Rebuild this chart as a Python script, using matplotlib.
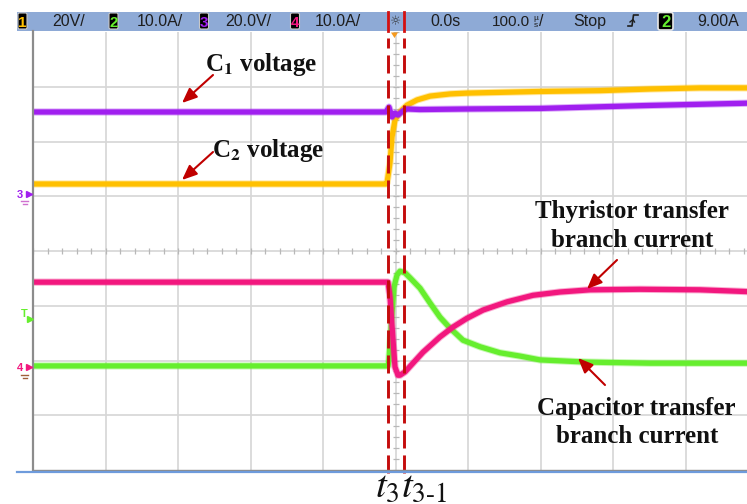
import matplotlib
matplotlib.use("Agg")
import matplotlib.pyplot as plt
import matplotlib.patheffects as pe
from matplotlib.patches import Rectangle, FancyBboxPatch, Polygon

plt.rcParams["mathtext.fontset"] = "stix"
plt.rcParams["lines.scale_dashes"] = False

# ---------------- data (time in microseconds) ----------------
# C1 voltage, channel 3 (purple), V
t_c1 = [-500, -13.1, -9.0, -4.8, -0.7, 3.4, 10.3, 15.9, 33.8, 98.6, 199.3, 351.0, 500]
v_c1 = [29.6, 29.6, 31.4, 27.8, 29.2, 28.5, 30.0, 30.7, 30.5, 30.7, 30.9, 32.0, 32.9]

# C2 voltage, channel 1 (yellow), V
t_c2 = [-500, -13.1, -11.7, -7.6, -4.8, -0.7, 6.2, 15.9, 29.7, 47.6, 75.2, 98.6,
        199.3, 282.1, 351.0, 420.0, 500]
v_c2 = [3.3, 3.3, 3.7, 11.0, 20.5, 26.7, 29.6, 32.1, 34.0, 35.4, 36.2, 36.5,
        37.1, 37.4, 38.0, 38.4, 38.4]

# Thyristor transfer branch current, channel 4 (magenta), A
t_thy = [-500, -10.3, -7.6, -3.4, -0.7, 3.4, 6.2, 13.1, 24.1, 37.9, 61.4, 79.3,
         98.6, 120.7, 153.8, 189.7, 226.9, 268.3, 337.2, 420.0, 500]
i_thy = [15.5, 15.5, 12.8, 4.9, 0.0, -1.5, -1.5, -0.9, 0.7, 2.7, 5.5, 7.3,
         8.9, 10.4, 11.9, 13.1, 13.7, 14.1, 14.2, 14.1, 13.7]

# Capacitor transfer branch current, channel 2 (green), A
t_cap = [-500, -10.3, -9.0, -4.8, -2.1, 2.1, 6.2, 13.1, 20.0, 33.8, 47.6, 61.4,
         75.2, 93.1, 116.6, 144.1, 171.7, 199.3, 264.1, 351.0, 500]
i_cap = [0.2, 0.2, 1.3, 9.9, 14.6, 16.8, 17.5, 17.2, 16.3, 14.4, 11.7, 9.1,
         7.1, 4.9, 3.7, 2.6, 2.0, 1.3, 0.9, 0.7, 0.7]

# event instants (µs)
t_events = [-10.3, 11.7]
event_labels = [r"$t_{3}$", r"$t_{3\text{-}1}$"]

# trace labels
label_c1 = "C$_{\\mathbf{1}}$ voltage"
label_c2 = "C$_{\\mathbf{2}}$ voltage"
label_thy = ["Thyristor transfer", "branch current"]
label_cap = ["Capacitor transfer", "branch current"]

# oscilloscope header
ch_ids = ["1", "2", "3", "4"]
ch_scales = ["20V/", "10.0A/", "20.0V/", "10.0A/"]
t_position = "0.0s"
t_scale = "100.0"
run_state = "Stop"
trig_ch = "2"
trig_level = "9.00A"

# ---------------- style ----------------
W, H = 747, 504
col_c1 = "#A01FEF"
col_c2 = "#FFC000"
col_thy = "#F2177E"
col_cap = "#66EE2E"
red = "#C40C0C"
grid_col = "#D6D6D6"

v_per_div, v_off = 20.0, 1.059      # volts/div, ground position (div)
a_per_div, a_off = 10.0, -2.119     # amps/div, ground position (div)

fig = plt.figure(figsize=(W / 100, H / 100), dpi=100)
fig.patch.set_facecolor("white")

# main scope axes: pixel 33..747 horizontally, 32..470 vertically
x0, x1, ytop, ybot = 33, 747, 32, 470
ax = fig.add_axes([x0 / W, (H - ybot) / H, (x1 - x0) / W, (ybot - ytop) / H])
px_per_div = 72.5
ax.set_xlim(-500, -500 + (x1 - x0) / px_per_div * 100)
ax.set_ylim(-4, 4)
for s in ax.spines.values():
    s.set_visible(False)
ax.set_xticks([])
ax.set_yticks([])

# grid
for tg in range(-400, 600, 100):
    ax.axvline(tg, color=grid_col, lw=1.2, zorder=1)
for d in range(-3, 4):
    ax.axhline(d, color=grid_col, lw=1.2, zorder=1)
# minor ticks on centre lines
mx = [x for x in range(-500, 500, 20)]
ax.plot(mx, [0] * len(mx), ls="none", marker="|", ms=5, mew=0.9, color="#B8B8B8", zorder=1)
my = [k * 0.2 for k in range(-20, 21)]
ax.plot([0] * len(my), my, ls="none", marker="_", ms=5, mew=0.9, color="#B8B8B8", zorder=1)

fuzz = lambda c: [pe.Stroke(linewidth=5.2, foreground=c, alpha=0.35), pe.Normal()]


def to_div(vals, per, off):
    return [off + v / per for v in vals]


ax.plot(t_c2, to_div(v_c2, v_per_div, v_off), color=col_c2, lw=3.8, zorder=3,
        solid_joinstyle="round", path_effects=fuzz(col_c2))
ax.plot(t_cap, to_div(i_cap, a_per_div, a_off), color=col_cap, lw=3.8, zorder=3,
        solid_joinstyle="round", path_effects=fuzz(col_cap))
ax.plot(t_c1, to_div(v_c1, v_per_div, v_off), color=col_c1, lw=3.8, zorder=4,
        solid_joinstyle="round", path_effects=fuzz(col_c1))
ax.plot(t_thy, to_div(i_thy, a_per_div, a_off), color=col_thy, lw=3.8, zorder=4,
        solid_joinstyle="round", path_effects=fuzz(col_thy))

# dashed event lines
for te in t_events:
    ax.axvline(te, ymin=-3 / 438, ymax=(ybot - 38) / 438, color=red, lw=2.1,
               ls=(0, (13, 5)), clip_on=False, zorder=6)

# ---------------- overlay in pixel coordinates ----------------
ov = fig.add_axes([0, 0, 1, 1], zorder=5)
ov.set_xlim(0, W)
ov.set_ylim(H, 0)
ov.axis("off")
ov.patch.set_visible(False)

# frame lines
ov.plot([33, 33], [31, 470], color="#8C8C8C", lw=1.6)
ov.plot([33, W], [470, 470], color="#8C8C8C", lw=1.0)
ov.plot([17, W], [472, 472], color="#6E9BDC", lw=1.6)

# header bar
ov.add_patch(Rectangle((17, 12), W - 17, 19, fc="#8EAAD6", ec="none"))
badge_x = [18, 109, 199.5, 290.5]
badge_c = [col_c2, col_cap, col_c1, col_thy]
text_x = [52, 137, 225, 315]
hfont = dict(family="Liberation Sans", fontsize=11.5, color="#1E1E1E")
for bx, bc, cid, tx, sc in zip(badge_x, badge_c, ch_ids, text_x, ch_scales):
    ov.add_patch(FancyBboxPatch((bx, 13), 9, 16, boxstyle="round,pad=0,rounding_size=1.5",
                                fc="black", ec="#C8C8C8", lw=0.8))
    ov.text(bx + 4.5, 27, cid, ha="center", va="baseline", color=bc,
            family="Liberation Sans", fontsize=11, fontweight="bold")
    ov.text(tx, 26, sc, ha="left", va="baseline", **hfont)

# trigger position icon and red event marks in header
ov.text(396, 21.5, "☼", ha="center", va="center", fontsize=9, color="#333333",
        family="DejaVu Sans")
for px in [388, 404]:
    ov.plot([px, px], [12, 31], color="#D41010", lw=2.0)
ov.add_patch(Polygon([[391, 32.5], [398, 32.5], [394.5, 38]], closed=True,
                     fc="#F59A1E", ec="none"))

ov.text(430, 26, t_position, ha="left", va="baseline", **hfont)
ov.text(492, 26, t_scale, ha="left", va="baseline", family="Liberation Sans",
        fontsize=11, color="#1E1E1E")
ov.text(533, 19.5, "µ", ha="left", va="baseline", family="Liberation Sans",
        fontsize=6, color="#1E1E1E")
ov.text(533.5, 27, "s", ha="left", va="baseline", family="Liberation Sans",
        fontsize=6, color="#1E1E1E")
ov.text(539, 26, "/", ha="left", va="baseline", **hfont)
ov.text(573, 26, run_state, ha="left", va="baseline", **hfont)
# rising edge trigger symbol
ov.plot([628, 632, 633.5, 638], [26, 26, 15, 15], color="#1E1E1E", lw=1.2)
ov.plot([630, 633, 634.5], [22, 19.5, 22], color="#1E1E1E", lw=1.0)
ov.add_patch(FancyBboxPatch((658, 12.5), 15, 17.5, boxstyle="round,pad=0,rounding_size=2",
                            fc="black", ec="#E8E8E8", lw=1.2))
ov.text(665.5, 27, trig_ch, ha="center", va="baseline", color=col_cap,
        family="Liberation Sans", fontsize=12, fontweight="bold")
ov.text(697, 26, trig_level, ha="left", va="baseline", **hfont)

# left side channel markers
ov.text(17, 198, "3", color=col_c1, fontsize=8, fontweight="bold", family="Liberation Sans")
ov.plot([29], [193.5], marker=">", ms=4, color=col_c1)
ov.plot([21, 28], [201, 201], color="#D070D0", lw=1.0)
ov.plot([22.5, 26.5], [203.5, 203.5], color="#D070D0", lw=1.0)
ov.text(21, 317, "T", color=col_cap, fontsize=8, fontweight="bold", family="Liberation Sans")
ov.plot([29.5], [319], marker=">", ms=4, color=col_cap)
ov.text(17, 371, "4", color=col_thy, fontsize=8, fontweight="bold", family="Liberation Sans")
ov.plot([29], [366.5], marker=">", ms=4, color=col_thy)
ov.plot([21, 28], [375, 375], color="#A0603A", lw=1.0)
ov.plot([22.5, 26.5], [377.5, 377.5], color="#A0603A", lw=1.0)

# trace labels
lab = dict(family="Liberation Serif", fontweight="bold", fontsize=18, color="#111111")
ov.text(205, 71, label_c1, ha="left", va="baseline", **lab)
ov.text(212, 157, label_c2, ha="left", va="baseline", **lab)
ov.text(632, 218, label_thy[0], ha="center", va="baseline", **lab)
ov.text(632, 247, label_thy[1], ha="center", va="baseline", **lab)
ov.text(636, 415, label_cap[0], ha="center", va="baseline", **lab)
ov.text(637, 443, label_cap[1], ha="center", va="baseline", **lab)

arrow = dict(arrowstyle="-|>,head_length=0.9,head_width=0.38", color="#C00000",
             lw=1.5, shrinkA=0, shrinkB=0)
for tail, head in [((213, 75), (182, 103)), ((213, 152), (182, 180)),
                   ((617, 260), (587, 289)), ((605, 385), (578, 358))]:
    ov.annotate("", xy=head, xytext=tail, arrowprops=arrow)

# event labels
ev_x = [375, 401]
for ex, txt in zip(ev_x, event_labels):
    ov.text(ex, 497, txt, ha="left", va="baseline", fontsize=28, color="#111111")

fig.savefig("out.png", dpi=100)
